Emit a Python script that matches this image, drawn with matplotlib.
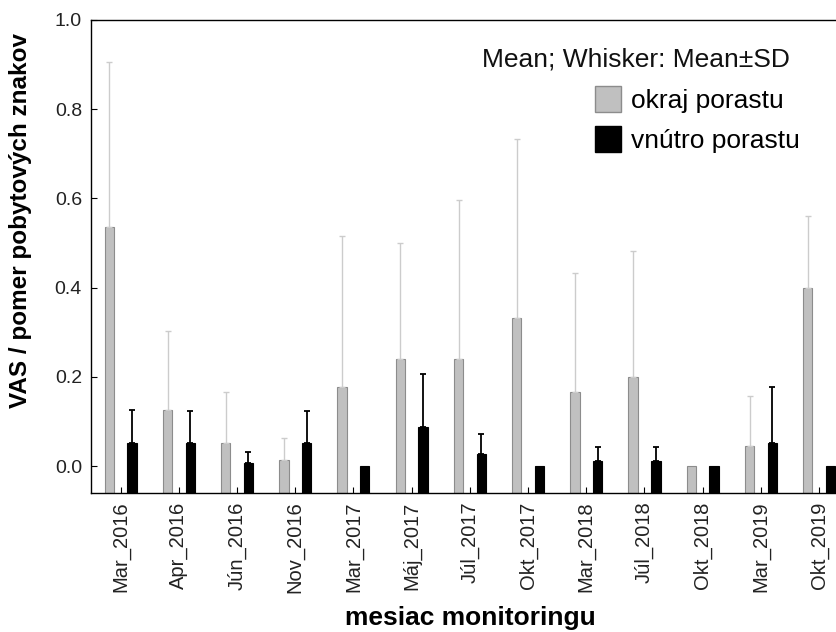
import matplotlib.pyplot as plt
from matplotlib.patches import Patch
import numpy as np

plt.rcParams['font.family'] = ['Liberation Sans', 'DejaVu Sans']

months = ['Mar_2016', 'Apr_2016', 'Jún_2016', 'Nov_2016', 'Mar_2017', 'Máj_2017', 'Júl_2017',
          'Okt_2017', 'Mar_2018', 'Júl_2018', 'Okt_2018', 'Mar_2019', 'Okt_2019']

okraj_mean = [0.535, 0.127, 0.052, 0.015, 0.178, 0.240, 0.240, 0.333, 0.166, 0.200, 0.0, 0.045, 0.400]
okraj_sd   = [0.371, 0.175, 0.114, 0.049, 0.338, 0.261, 0.357, 0.401, 0.267, 0.282, 0.0, 0.113, 0.161]

vnutro_mean = [0.052, 0.052, 0.0075, 0.052, 0.0, 0.087, 0.027, 0.0, 0.012, 0.012, 0.0, 0.052, 0.0]
vnutro_sd   = [0.074, 0.072, 0.0235, 0.072, 0.0, 0.120, 0.045, 0.0, 0.030, 0.030, 0.0, 0.125, 0.0]

YMIN, YMAX = -0.06, 1.0


def draw_group(ax, x, mean, sd, face, edge, whisker, lw):
    mean = np.asarray(mean)
    sd = np.asarray(sd)
    ax.bar(x, mean - YMIN, bottom=YMIN, width=0.16, color=face, edgecolor=edge, linewidth=0.8, zorder=2)
    # only upper whisker (Mean+SD), skip zero-SD groups
    m = sd > 0
    ax.errorbar(x[m], mean[m], yerr=[np.zeros(m.sum()), sd[m]], fmt='none',
                ecolor=whisker, elinewidth=lw, capsize=2, capthick=lw, zorder=3)


fig = plt.figure(figsize=(8.37, 6.32), dpi=100)
ax = fig.add_axes([91 / 837, 139 / 632, 754 / 837, 473 / 632])

x = np.arange(len(months))
draw_group(ax, x - 0.195, okraj_mean, okraj_sd, '#c0c0c0', '#8c8c8c', '#cccccc', 1.0)
draw_group(ax, x + 0.195, vnutro_mean, vnutro_sd, '#000000', '#000000', '#000000', 1.3)

ax.set_xlim(-0.51, 12.445)
ax.set_ylim(YMIN, YMAX)
ax.set_yticks([0.0, 0.2, 0.4, 0.6, 0.8, 1.0])
ax.set_yticklabels(['0.0', '0.2', '0.4', '0.6', '0.8', '1.0'])
ax.set_xticks(x)
ax.set_xticklabels(months, rotation=90)
ax.tick_params(axis='both', direction='in', length=4, labelcolor='#222222')
ax.tick_params(axis='y', pad=6.5, labelsize=14)
ax.tick_params(axis='x', pad=6, labelsize=14.5)
for s in ax.spines.values():
    s.set_linewidth(1.0)

fig.text(20.5 / 837, 1 - 221 / 632, 'VAS / pomer pobytových znakov', rotation=90,
         ha='center', va='center', fontsize=17.5, fontweight='bold')
fig.text(470 / 837, 1 - 625 / 632, 'mesiac monitoringu', ha='center', va='baseline',
         fontsize=19, fontweight='bold')

fig.text(482 / 837, 1 - 66 / 632, 'Mean; Whisker: Mean±SD', ha='left', va='baseline',
         fontsize=19, color='#111111')
handles = [Patch(facecolor='#c0c0c0', edgecolor='#8c8c8c', label='okraj porastu'),
           Patch(facecolor='#000000', edgecolor='#000000', label='vnútro porastu')]
ax.legend(handles=handles, loc='upper left', bbox_to_anchor=(595 / 837, 1 - 86 / 632),
          bbox_transform=fig.transFigure, frameon=False, fontsize=19, borderpad=0,
          borderaxespad=0, handlelength=0.97, handleheight=1.14, handletextpad=0.38,
          labelspacing=0.5)

fig.savefig('out.png', dpi=100)
